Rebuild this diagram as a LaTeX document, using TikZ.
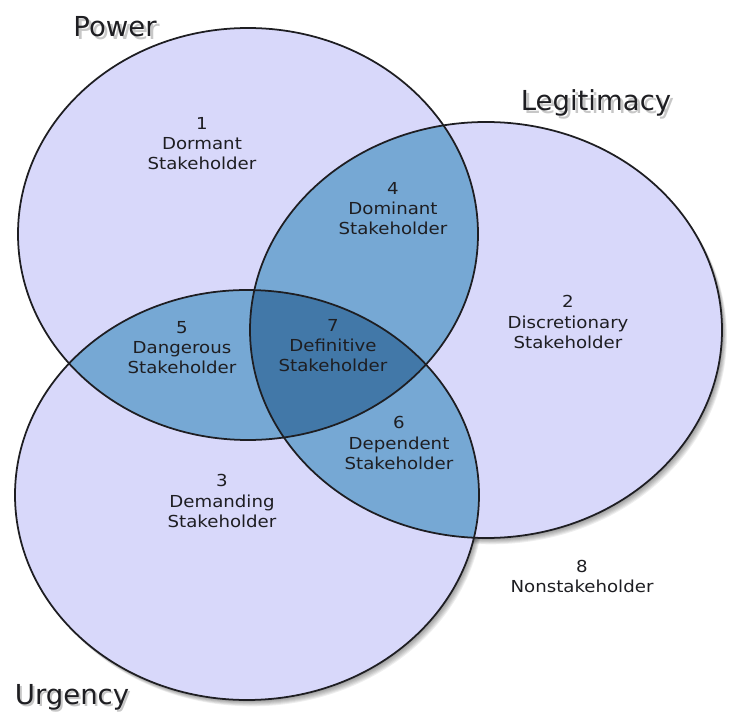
\documentclass[tikz,border=0pt]{standalone}
\usepackage{fontspec}
\setmainfont{DejaVu Sans}

\definecolor{lav}{RGB}{216,216,250}
\definecolor{midblue}{RGB}{118,168,212}
\definecolor{deepblue}{RGB}{66,120,168}
\definecolor{ink}{RGB}{30,30,34}

\newcommand\powerring{(248,234) ellipse [x radius=230, y radius=206]}
\newcommand\legitring{(486,330) ellipse [x radius=236, y radius=208]}
\newcommand\urgring{(247,495) ellipse [x radius=232, y radius=205]}

\tikzset{
  lbl/.style={align=center, text=ink, inner sep=0pt, xscale=1.1,
    font=\fontsize{14.1}{17.1}\selectfont},
  ttl/.style={text=ink, inner sep=0pt, anchor=base,
    font=\fontsize{23.5}{28}\selectfont},
  ttlshade/.style={ttl, text=black, opacity=0.22},
  ring/.style={draw=ink, line width=1.5pt},
}

\begin{document}
\begin{tikzpicture}[x=0.03cm, y=-0.03cm]
  \useasboundingbox (0,0) rectangle (734,713);

  % shadows
  \foreach \k in {1,...,7} {
    \fill[black, opacity=0.065, shift={(\k*0.7,\k*0.9)}] \powerring;
    \fill[black, opacity=0.065, shift={(\k*0.7,\k*0.9)}] \legitring;
    \fill[black, opacity=0.065, shift={(\k*0.7,\k*0.9)}] \urgring;
  }

  \fill[lav] \powerring;
  \fill[lav] \legitring;
  \fill[lav] \urgring;

  \begin{scope}
    \clip \powerring;
    \fill[midblue] \legitring;
    \fill[midblue] \urgring;
  \end{scope}
  \begin{scope}
    \clip \legitring;
    \fill[midblue] \urgring;
  \end{scope}
  \begin{scope}
    \clip \powerring;
    \clip \legitring;
    \fill[deepblue] \urgring;
  \end{scope}

  \draw[ring] \powerring;
  \draw[ring] \legitring;
  \draw[ring] \urgring;

  \begin{scope}[every node/.style={lbl}]
    \node (dormant)       at (202,144) {1\\Dormant\\Stakeholder};
    \node (dominant)      at (393,209) {4\\Dominant\\Stakeholder};
    \node (discretionary) at (568,322) {2\\Discretionary\\Stakeholder};
    \node (dangerous)     at (182,348) {5\\Dangerous\\Stakeholder};
    \node (definitive)    at (333,346) {7\\Definitive\\Stakeholder};
    \node (dependent)     at (399,443) {6\\Dependent\\Stakeholder};
    \node (demanding)     at (222,501) {3\\Demanding\\Stakeholder};
    \node (nonstake)      at (582,576) {8\\Nonstakeholder};
  \end{scope}

  \node[ttlshade] (powershade) at (118,40)  {Power};
  \node[ttl]      (power)      at (115,37)  {Power};
  \node[ttlshade] (legitshade) at (599,114) {Legitimacy};
  \node[ttl]      (legit)      at (596,111) {Legitimacy};
  \node[ttlshade] (urgshade)   at (74,706)  {Urgency};
  \node[ttl]      (urg)        at (72,704)  {Urgency};

\end{tikzpicture}
\end{document}
